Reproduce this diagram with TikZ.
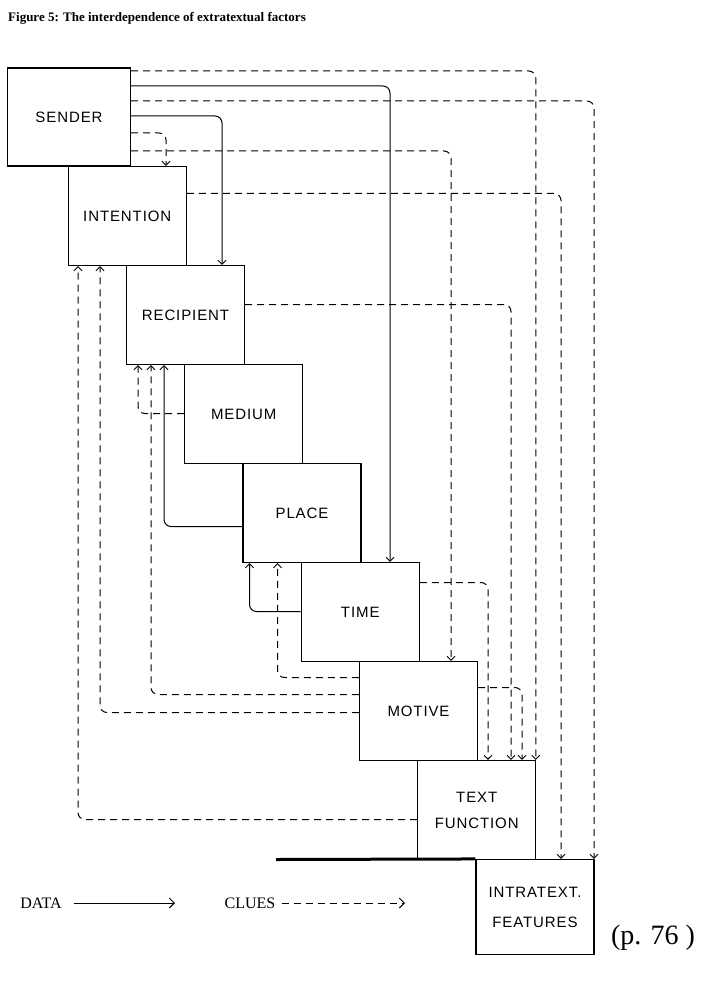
\documentclass[tikz,border=0pt]{standalone}
\usepackage{fontspec}
\setmainfont{Liberation Serif}
\newfontfamily\boxfont[LetterSpace=6]{Liberation Sans}
\usetikzlibrary{arrows.meta}
\tikzset{
	factor/.style={draw=black,line width=1.1pt,minimum width=118pt,minimum height=99pt,
		inner sep=0pt,align=center,font=\boxfont\fontsize{15}{18}\selectfont},
	data/.style={draw=black,line width=1pt,rounded corners=7pt,
		-{Straight Barb[length=4pt,width=8pt]}},
	clue/.style={data,dash pattern=on 7pt off 5pt},
	key/.style={inner sep=0pt,font=\fontsize{16}{18}\selectfont},
	keytip/.style={-{Straight Barb[length=5pt,width=10pt]}},
}

\begin{document}
\begin{tikzpicture}[x=1pt,y=-1pt]
	\fill[white] (0,0) rectangle (714,981);
	\useasboundingbox (0,0) rectangle (714,981);
	\node[anchor=west,inner sep=0pt,font=\bfseries\fontsize{13}{15}\selectfont] (title) at (8,18)
		{Figure 5: The interdependence of extratextual factors};
	% the factors, stepping down to the right
	\node[factor,minimum width=123pt,minimum height=98pt] (sender) at (69,117) {SENDER};
	\node[factor] (intention) at (127.25,216) {INTENTION};
	\node[factor] (recipient) at (185.5,315) {RECIPIENT};
	\node[factor] (medium) at (243.75,414) {MEDIUM};
	\node[factor] (place) at (302,513) {PLACE};
	\node[factor] (time) at (360.25,612) {TIME};
	\node[factor] (motive) at (418.5,711) {MOTIVE};
	\node[factor] (tfunc) at (476.75,810) {TEXT\\[8pt]FUNCTION};
	\node[factor,minimum height=95pt] (intra) at (535,907) {INTRATEXT.\\[12pt]FEATURES};
	\coordinate (baseleft) at (276,859.5);
	\draw[line width=3pt] (baseleft) -- (intra.north west);
	% links out of the right side, down onto a later factor
	\foreach \kind/\from/\y/\dest/\x in {clue/sender/71/tfunc/535.75,data/sender/86/time/390,
		clue/sender/101/intra/594,data/sender/116/recipient/222,clue/sender/133/intention/166,
		clue/sender/151/motive/451,clue/intention/193.5/intra/561,clue/recipient/304.5/tfunc/511,
		clue/time/582.5/tfunc/488,clue/motive/687.5/tfunc/522}
	\draw[\kind] (\from.east |- 0,\y) -| (\dest.north -| \x,0);
	% links out of the left side, back up to an earlier factor
	\foreach \kind/\from/\y/\dest/\x in {clue/medium/413.5/recipient/138,data/place/526.5/recipient/164,
		clue/motive/694.5/recipient/151,clue/motive/712.5/intention/100,clue/tfunc/819.5/intention/78,
		data/time/611.5/place/249.5,clue/motive/677.5/place/277.5}
	\draw[\kind] (\from.west |- 0,\y) -| (\dest.south -| \x,0);
	% key
	\node[key] (datakey) at (41,903) {DATA};
	\coordinate (dataend) at (175,903);
	\draw[data,keytip] ([xshift=12pt]datakey.east) -- (dataend);
	\node[key] (cluekey) at (250,903) {CLUES};
	\coordinate (clueend) at (405,903);
	\draw[clue,keytip] ([xshift=6pt]cluekey.east) -- (clueend);
	\node[font=\fontsize{28}{32}\selectfont] (page) at (653,938) {(p. 76 )};
\end{tikzpicture}
\end{document}
